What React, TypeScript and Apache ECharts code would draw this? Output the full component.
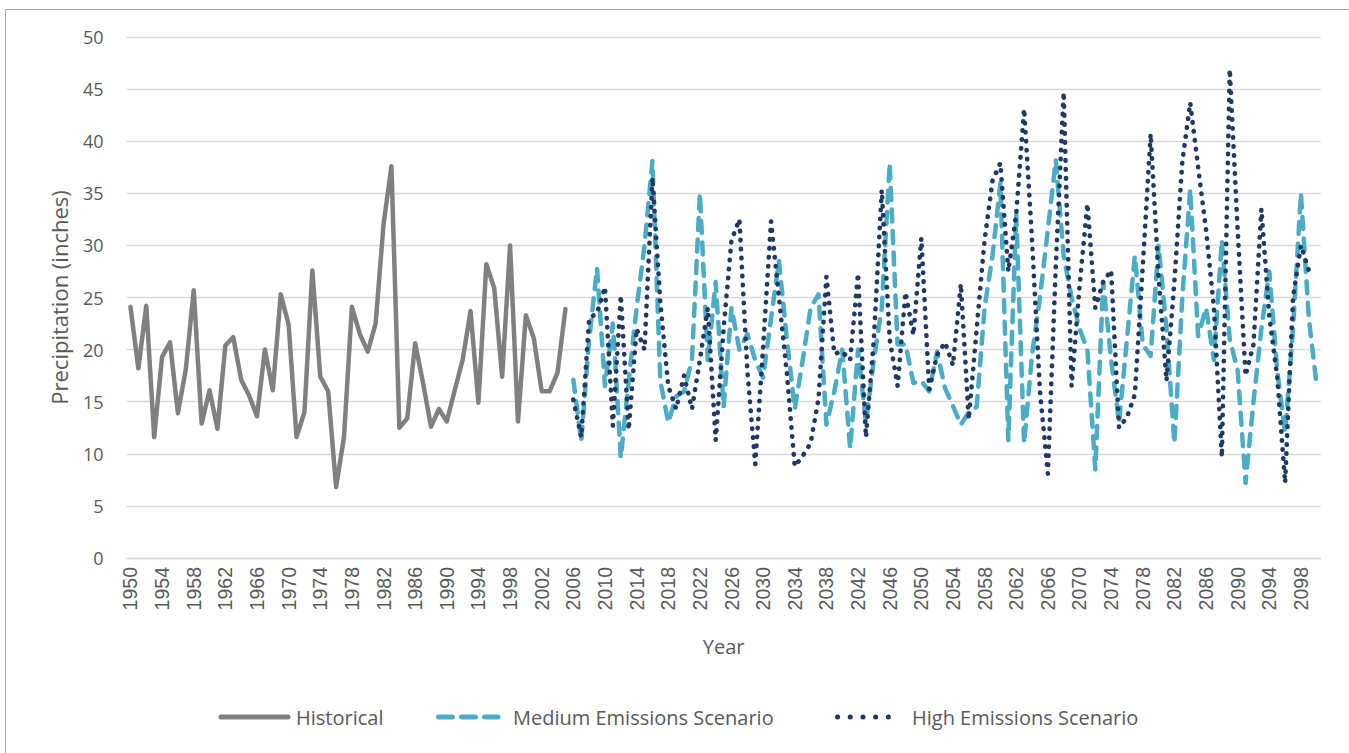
import React, { useEffect, useRef } from "react";
import * as echarts from "echarts";

// Years 1950 .. 2100 (category axis)
const years: string[] = [];
for (let y = 1950; y <= 2100; y++) years.push(String(y));

// Historical 1950-2005
const historical = [
  24.1, 18.2, 24.2, 11.6, 19.3, 20.7, 13.9, 18.1, 25.7, 12.9,
  16.1, 12.4, 20.4, 21.2, 17.1, 15.6, 13.6, 20.0, 16.1, 25.3,
  22.4, 11.6, 14.0, 27.6, 17.4, 16.0, 6.8, 11.6, 24.1, 21.5,
  19.8, 22.5, 32.0, 37.6, 12.5, 13.4, 20.6, 16.8, 12.6, 14.3,
  13.1, 16.1, 19.0, 23.7, 14.9, 28.2, 25.9, 17.4, 30.0, 13.1,
  23.3, 21.1, 16.0, 16.0, 17.8, 23.9,
];

// Medium Emissions Scenario 2006-2100
const medium = [
  17.1, 11.2, 21, 27.8, 16.5, 22.5, 9.6, 17, 24, 30,
  38.1, 17, 13, 15.5, 16, 19, 35, 19, 26.5, 14.5,
  24, 20, 21.5, 19, 17.3, 23, 28.5, 21, 14.3, 19,
  24, 25.3, 12.8, 16, 20, 10.5, 20, 13, 19, 24,
  37.9, 20.5, 20.5, 16.8, 17, 16, 19.8, 16.3, 14.6, 12.8,
  14, 14.5, 24, 29, 36, 11.3, 33, 11, 19.5, 25,
  31.5, 38.2, 29, 25, 22, 20, 8.5, 26.5, 19, 13,
  21, 29, 20.5, 19.4, 30, 22, 11, 25, 35.4, 21.3,
  24, 19, 30.5, 21, 18, 7.2, 15, 22, 27.5, 18,
  12, 22, 35, 23, 16.5,
];

// High Emissions Scenario 2006-2099
const high = [
  15.2, 11.6, 23, 23.5, 26, 12.7, 25.2, 12.3, 22, 20,
  36.5, 24.5, 16.5, 14.3, 17.5, 14.3, 19, 24, 11.3, 22,
  30.5, 32.5, 18, 9, 20.3, 32.3, 25, 17.7, 8.8, 9.8,
  11, 15.3, 27, 19.6, 19.8, 19, 27.3, 11.6, 21, 35.3,
  21, 16.5, 25.5, 21.4, 30.7, 16.2, 19.5, 20.7, 18.5, 26.3,
  13.3, 22, 30.5, 36.2, 37.9, 27.5, 33, 43.1, 30.5, 16,
  8.1, 28, 44.7, 16.5, 26, 34, 24, 26.5, 27.6, 12.5,
  13.5, 15.7, 28, 40.7, 27, 17, 26.5, 38, 43.7, 37.5,
  31.5, 24, 9.7, 46.9, 31.5, 17.5, 20.5, 33.5, 23.2, 17.4,
  7.2, 25, 30, 27.6,
];

const seriesNames = ["Historical", "Medium Emissions Scenario", "High Emissions Scenario"];
const projStart = 2006;

function place(values: number[], startYear: number): (number | null)[] {
  return years.map((y) => {
    const i = Number(y) - startYear;
    return i >= 0 && i < values.length ? values[i] : null;
  });
}

const FONT = "'Open Sans', 'Liberation Sans', sans-serif";
const TXT = "#595959";
const C_HIST = "#808080";
const C_MED = "#4bacc6";
const C_HIGH = "#203864";

const MED_DASH = [12, 9.5];
const HIGH_DASH = [0.5, 8.5];

export default function App() {
  const ref = useRef<HTMLDivElement>(null);
  useEffect(() => {
    if (!ref.current) return;
    const chart = echarts.init(ref.current, undefined, { renderer: "svg" });
    const legendY = 717;
    const legendText = (x: number, t: string) => ({
      type: "text",
      x,
      y: legendY,
      silent: true,
      style: {
        text: t,
        fill: TXT,
        font: `20px ${FONT}`,
        textVerticalAlign: "middle",
        verticalAlign: "middle",
        textAlign: "left",
      },
    });
    chart.setOption({
      animation: false,
      backgroundColor: "#ffffff",
      textStyle: { fontFamily: FONT },
      graphic: [
        {
          type: "rect",
          shape: { x: 5.5, y: 9.5, width: 1400, height: 800 },
          style: { fill: "none", stroke: "#a6a6a6", lineWidth: 1 },
          silent: true,
        },
        {
          type: "line",
          silent: true,
          shape: { x1: 221, y1: legendY, x2: 288, y2: legendY },
          style: { stroke: C_HIST, lineWidth: 5, lineCap: "round" },
        },
        legendText(296, seriesNames[0]),
        {
          type: "line",
          silent: true,
          shape: { x1: 438.5, y1: legendY, x2: 498, y2: legendY },
          style: { stroke: C_MED, lineWidth: 5, lineCap: "round", lineDash: [14, 9] },
        },
        legendText(513, seriesNames[1]),
        {
          type: "line",
          silent: true,
          shape: { x1: 837.5, y1: legendY, x2: 901, y2: legendY },
          style: { stroke: C_HIGH, lineWidth: 5, lineCap: "round", lineDash: [0.1, 12.6] },
        },
        legendText(912, seriesNames[2]),
      ],
      grid: { left: 126.5, right: 28.3, top: 37, bottom: 195, containLabel: false },
      xAxis: {
        type: "category",
        data: years,
        boundaryGap: true,
        name: "Year",
        nameLocation: "middle",
        nameGap: 78,
        nameTextStyle: { color: TXT, fontSize: 20, fontFamily: FONT },
        axisLine: { show: true, lineStyle: { color: "#d9d9d9", width: 1.3 } },
        axisTick: { show: false },
        axisLabel: {
          interval: 3,
          rotate: 90,
          color: TXT,
          fontSize: 19.5,
          margin: 9,
          fontFamily: "'Liberation Sans', Arial, sans-serif",
        },
        splitLine: { show: false },
      },
      yAxis: {
        type: "value",
        min: 0,
        max: 50,
        interval: 5,
        name: "Precipitation (inches)",
        nameLocation: "middle",
        nameGap: 57,
        nameTextStyle: { color: TXT, fontSize: 22, fontFamily: FONT },
        axisLine: { show: false },
        axisTick: { show: false },
        axisLabel: { color: TXT, fontSize: 18, margin: 23, fontFamily: FONT },
        splitLine: { lineStyle: { color: "#d9d9d9", width: 1.3 } },
      },
      series: [
        {
          name: seriesNames[0],
          type: "line",
          data: place(historical, 1950),
          symbol: "none",
          showSymbol: false,
          connectNulls: false,
          color: C_HIST,
          lineStyle: { color: C_HIST, width: 4.5, join: "round", cap: "round" },
          z: 3,
        },
        {
          name: seriesNames[1],
          type: "line",
          data: place(medium, projStart),
          symbol: "none",
          showSymbol: false,
          color: C_MED,
          lineStyle: { color: C_MED, width: 4.5, type: MED_DASH, cap: "round", join: "round" },
          z: 2,
        },
        {
          name: seriesNames[2],
          type: "line",
          data: place(high, projStart),
          symbol: "none",
          showSymbol: false,
          color: C_HIGH,
          lineStyle: { color: C_HIGH, width: 4.6, type: HIGH_DASH, cap: "round", join: "round" },
          z: 4,
        },
      ],
    });
    return () => chart.dispose();
  }, []);
  return (
    <div
      ref={ref}
      style={{ position: "fixed", left: 0, top: 0, width: 1349, height: 753, background: "#fff" }}
    />
  );
}
